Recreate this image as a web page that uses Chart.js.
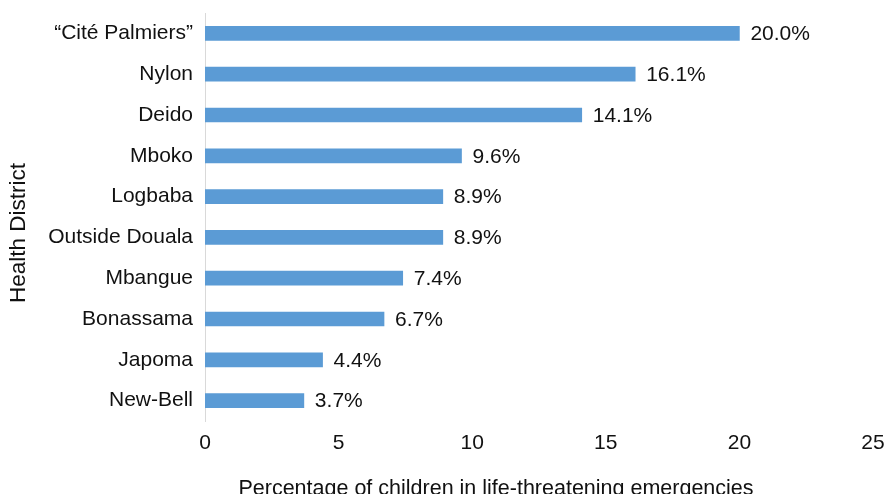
<!DOCTYPE html>
<html>
<head>
<meta charset="utf-8">
<script src="https://cdn.jsdelivr.net/npm/chart.js@4.4.0/dist/chart.umd.min.js"></script>
<style>
  html, body { margin: 0; padding: 0; background: #fff; }
  #wrap { width: 887px; height: 494px; }
</style>
</head>
<body>
<div id="wrap"><canvas id="chart" width="887" height="494"></canvas></div>
<script>
// 数据
const districts = ["\u201cCité Palmiers\u201d", "Nylon", "Deido", "Mboko", "Logbaba",
  "Outside Douala", "Mbangue", "Bonassama", "Japoma", "New-Bell"];
const percents = [20.0, 16.1, 14.1, 9.6, 8.9, 8.9, 7.4, 6.7, 4.4, 3.7];
const xTicks = [0, 5, 10, 15, 20, 25];
const xTitle = "Percentage of children in life-threatening emergencies";
const yTitle = "Health District";

const FONT = "'Liberation Sans', Arial, sans-serif";

// 数值标签
const valueLabels = {
  id: "valueLabels",
  afterDatasetsDraw(chart) {
    const ctx = chart.ctx;
    const meta = chart.getDatasetMeta(0);
    ctx.save();
    ctx.font = "21px " + FONT;
    ctx.fillStyle = "#111";
    ctx.textAlign = "left";
    ctx.textBaseline = "middle";
    meta.data.forEach((bar, i) => {
      ctx.fillText(percents[i].toFixed(1) + "%", bar.x + 11, bar.y + 1);
    });
    ctx.restore();
  },
};

// 轴标题
const axisTitles = {
  id: "axisTitles",
  afterDraw(chart) {
    const ctx = chart.ctx;
    ctx.save();
    ctx.fillStyle = "#111";
    ctx.font = "21.5px " + FONT;
    ctx.textAlign = "center";
    ctx.textBaseline = "alphabetic";
    ctx.fillText(xTitle, 496, 495);
    ctx.translate(19, 233);
    ctx.rotate(-Math.PI / 2);
    ctx.font = "22.5px " + FONT;
    ctx.textBaseline = "middle";
    ctx.fillText(yTitle, 0, 0);
    ctx.restore();
  },
};

new Chart(document.getElementById("chart"), {
  type: "bar",
  data: {
    labels: districts,
    datasets: [{
      data: percents,
      backgroundColor: "#5B9BD5",
      borderWidth: 0,
      barThickness: 14,
    }],
  },
  options: {
    indexAxis: "y",
    responsive: false,
    animation: false,
    layout: { padding: { top: 13, right: 14, left: 0, bottom: 0 } },
    plugins: { legend: { display: false }, tooltip: { enabled: false } },
    scales: {
      x: {
        min: 0,
        max: 25,
        afterBuildTicks: (s) => { s.ticks = xTicks.map((v) => ({ value: v })); },
        grid: { display: false, drawTicks: false },
        border: { display: false },
        ticks: { color: "#111", font: { family: FONT, size: 21 }, padding: 10, maxRotation: 0 },
        afterFit: (s) => { s.height = 73; s.paddingLeft = 0; s.paddingRight = 0; },
      },
      y: {
        grid: { display: false, drawTicks: false },
        border: { display: true, color: "#d9d9d9", width: 1 },
        ticks: { color: "#111", font: { family: FONT, size: 21 }, padding: 12 },
        afterFit: (s) => { s.width = 205; s.paddingTop = 0; s.paddingBottom = 0; },
      },
    },
  },
  plugins: [valueLabels, axisTitles],
});
</script>
</body>
</html>
